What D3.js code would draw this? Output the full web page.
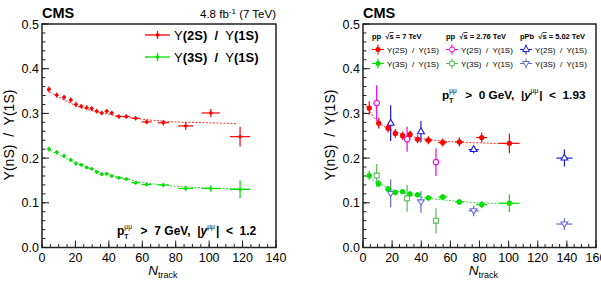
<!DOCTYPE html>
<html>
<head>
<meta charset="utf-8">
<script src="https://cdn.jsdelivr.net/npm/d3@7"></script>
<style>
  body { margin: 0; background: #fff; }
  text { font-family: "Liberation Sans", Arial, sans-serif; fill: #000; white-space: pre; }
</style>
</head>
<body>
<svg id="chart" width="601" height="283"></svg>
<script>
// ---- left panel: pp 7 TeV, pT > 7 GeV ----
var leftN     = [4.2, 8.8, 13.2, 17.2, 20.3, 23.5, 26.7, 29.7, 32.7, 35.7, 38.7, 41.7, 46, 50.4, 56, 62.6, 72.6, 86, 101, 118.5];
var leftNErr  = [1.2, 1.2, 1.2, 1.2, 1.2, 1.2, 1.2, 1.2, 1.2, 1.2, 1.2, 1.2, 2, 2, 2.5, 3, 3.3, 4.5, 5.5, 6];
var left2S    = [0.354, 0.341, 0.336, 0.330, 0.320, 0.316, 0.313, 0.311, 0.305, 0.301, 0.305, 0.301, 0.293, 0.293, 0.289, 0.281, 0.279, 0.272, 0.301, 0.248];
var left2SErr = [0.007, 0.006, 0.006, 0.006, 0.006, 0.005, 0.005, 0.005, 0.005, 0.005, 0.005, 0.005, 0.005, 0.005, 0.005, 0.005, 0.006, 0.009, 0.009, 0.022];
var left3S    = [0.220, 0.213, 0.205, 0.196, 0.188, 0.185, 0.179, 0.176, 0.169, 0.164, 0.165, 0.160, 0.156, 0.153, 0.145, 0.141, 0.140, 0.132, 0.132, 0.130];
var left3SErr = [0.006, 0.005, 0.005, 0.005, 0.005, 0.004, 0.004, 0.004, 0.004, 0.004, 0.004, 0.004, 0.004, 0.004, 0.004, 0.004, 0.005, 0.006, 0.007, 0.02];
var leftFitN  = [3, 20, 40, 60, 80, 100, 117];
var leftFit2S = [0.352, 0.318, 0.298, 0.287, 0.281, 0.279, 0.277];
var leftFit3N = [3, 20, 40, 60, 80, 100, 125];
var leftFit3S = [0.221, 0.189, 0.163, 0.146, 0.137, 0.133, 0.131];

// ---- right panel: pp 7 TeV, pp 2.76 TeV, pPb 5.02 TeV, pT > 0 ----
var r7N      = [4.3, 10.8, 17.2, 22.2, 27.2, 32.3, 37.5, 44.9, 54.7, 66.2, 81.5, 100.5];
var r7NErr   = [1.5, 1.5, 1.5, 1.5, 1.5, 1.5, 2, 2.5, 3, 3, 3.7, 7];
var r7_2S    = [0.312, 0.278, 0.267, 0.255, 0.250, 0.253, 0.242, 0.240, 0.235, 0.236, 0.246, 0.233];
var r7_2SErr = [0.015, 0.012, 0.01, 0.01, 0.009, 0.009, 0.009, 0.009, 0.009, 0.01, 0.011, 0.022];
var r7_3S    = [0.161, 0.143, 0.131, 0.123, 0.125, 0.120, 0.118, 0.111, 0.113, 0.102, 0.096, 0.099];
var r7_3SErr = [0.01, 0.008, 0.007, 0.006, 0.006, 0.006, 0.006, 0.006, 0.006, 0.007, 0.008, 0.02];
var r7FitN   = [2, 10, 20, 30, 40, 60, 80, 101];
var r7Fit2S  = [0.318, 0.282, 0.262, 0.251, 0.244, 0.237, 0.234, 0.232];
var r7Fit3N  = [2, 10, 20, 30, 40, 60, 80, 104];
var r7Fit3S  = [0.160, 0.145, 0.130, 0.120, 0.113, 0.105, 0.100, 0.098];

var r276N      = [9.4, 30.3, 50.1];
var r276_2S    = [0.323, 0.242, 0.191];
var r276_2SErr = [0.04, 0.028, 0.031];
var r276_3S    = [0.161, 0.110, 0.060];
var r276_3SErr = [0.026, 0.03, 0.028];

var rPbN      = [19, 39.8, 76, 138.3];
var rPbNErr   = [0, 0, 3.5, 5.5];
var rPb_2S    = [0.278, 0.259, 0.219, 0.200];
var rPb_2SErr = [0.04, 0.024, 0.008, 0.019];
var rPb_3S    = [0.121, 0.102, 0.082, 0.0525];
var rPb_3SErr = [0.031, 0.024, 0.012, 0.013];

var yTicks = [0, 0.1, 0.2, 0.3, 0.4, 0.5];

var svg = d3.select('#chart');
var frameTop = 24, frameBottom = 247.5;

function zip(xs, ys, xe, ye) {
    return xs.map(function(x, i) {
        return {x: x, y: ys[i], xe: xe ? xe[i] : 0, ye: ye ? ye[i] : 0};
    });
}

function makePanel(left, right, xMax) {
    var x = d3.scaleLinear().domain([0, xMax]).range([left, right]);
    var y = d3.scaleLinear().domain([0, 0.5]).range([frameBottom, frameTop]);
    var g = svg.append('g');

    // minor ticks (inside)
    g.selectAll('.yminor').data(d3.range(0, 0.501, 0.02)).enter().append('line')
        .attr('x1', left).attr('x2', left + 3.5)
        .attr('y1', function(d) { return y(d); }).attr('y2', function(d) { return y(d); })
        .attr('stroke', '#222').attr('stroke-width', 1);
    g.selectAll('.ymajor').data(yTicks).enter().append('line')
        .attr('x1', left).attr('x2', left + 7)
        .attr('y1', function(d) { return y(d); }).attr('y2', function(d) { return y(d); })
        .attr('stroke', '#222').attr('stroke-width', 1);
    g.selectAll('.xminor').data(d3.range(0, xMax + 0.1, 5)).enter().append('line')
        .attr('x1', function(d) { return x(d); }).attr('x2', function(d) { return x(d); })
        .attr('y1', frameBottom).attr('y2', frameBottom - 3.5)
        .attr('stroke', '#222').attr('stroke-width', 1);
    g.selectAll('.xmajor').data(d3.range(0, xMax + 0.1, 20)).enter().append('line')
        .attr('x1', function(d) { return x(d); }).attr('x2', function(d) { return x(d); })
        .attr('y1', frameBottom).attr('y2', frameBottom - 7)
        .attr('stroke', '#222').attr('stroke-width', 1);

    g.selectAll('.ylab').data(yTicks).enter().append('text')
        .attr('x', left - 3).attr('y', function(d) { return y(d) + 4.5; })
        .attr('text-anchor', 'end').attr('font-size', 12.5)
        .text(d3.format('.1f'));
    g.selectAll('.xlab').data(d3.range(0, xMax + 0.1, 20)).enter().append('text')
        .attr('x', function(d) { return x(d); }).attr('y', 262)
        .attr('text-anchor', 'middle').attr('font-size', 12.5)
        .text(function(d) { return d; });

    g.append('rect')
        .attr('x', left).attr('y', frameTop)
        .attr('width', right - left).attr('height', frameBottom - frameTop)
        .attr('fill', 'none').attr('stroke', '#222').attr('stroke-width', 1.5);

    // axis titles
    g.append('text')
        .attr('transform', 'translate(' + (left - 28) + ',135) rotate(-90)')
        .attr('text-anchor', 'middle').attr('font-size', 14)
        .text('\u03A5(nS)  /  \u03A5(1S)');
    var xtl = g.append('text')
        .attr('x', (left + right) / 2 + 4).attr('y', 275)
        .attr('text-anchor', 'middle').attr('font-size', 13.5);
    xtl.append('tspan').attr('font-style', 'italic').text('N');
    xtl.append('tspan').attr('font-size', 9).attr('dy', 3).text('track');

    g.append('text').attr('x', left).attr('y', 18)
        .attr('font-size', 14.5).attr('font-weight', 'bold').text('CMS');
    return {x: x, y: y, g: g};
}

function drawFit(p, ns, rs, color) {
    var line = d3.line().x(function(d) { return p.x(d.x); }).y(function(d) { return p.y(d.y); })
        .curve(d3.curveMonotoneX);
    p.g.append('path').datum(zip(ns, rs))
        .attr('d', line).attr('fill', 'none')
        .attr('stroke', color).attr('stroke-width', 1).attr('stroke-dasharray', '2,1.5');
}

function drawSeries(p, pts, color, symbol, size, filled) {
    var s = p.g.append('g');
    s.selectAll('.ex').data(pts).enter().append('line')
        .attr('x1', function(d) { return p.x(d.x - d.xe); })
        .attr('x2', function(d) { return p.x(d.x + d.xe); })
        .attr('y1', function(d) { return p.y(d.y); })
        .attr('y2', function(d) { return p.y(d.y); })
        .attr('stroke', color).attr('stroke-width', 1.2);
    s.selectAll('.ey').data(pts).enter().append('line')
        .attr('x1', function(d) { return p.x(d.x); })
        .attr('x2', function(d) { return p.x(d.x); })
        .attr('y1', function(d) { return p.y(d.y - d.ye); })
        .attr('y2', function(d) { return p.y(d.y + d.ye); })
        .attr('stroke', color).attr('stroke-width', 1.2);
    s.selectAll('.pt').data(pts).enter().append('path')
        .attr('transform', function(d) { return 'translate(' + p.x(d.x) + ',' + p.y(d.y) + ')'; })
        .attr('d', d3.symbol().type(symbol).size(size))
        .attr('fill', filled ? color : '#fff')
        .attr('stroke', color).attr('stroke-width', filled ? 0 : 1.1);
}

var invTriangle = {
    draw: function(ctx, size) {
        var s = Math.sqrt(size / 0.433) / 2;
        ctx.moveTo(0, s * 0.9);
        ctx.lineTo(s, -s * 0.6);
        ctx.lineTo(-s, -s * 0.6);
        ctx.closePath();
    }
};

// kinematic cut label: p_T^mumu > X GeV, |y^mumu| < Y
function kinLabel(g, x0, y0, fs, cutText, yText) {
    var x = x0;
    function put(str, opts) {
        var t = g.append('text').attr('x', x + (opts.dx || 0)).attr('y', y0 + (opts.dy || 0))
            .attr('font-size', opts.fs || fs)
            .attr('font-weight', opts.normal ? 'normal' : 'bold')
            .attr('font-style', opts.italic ? 'italic' : 'normal')
            .text(str);
        return t.node().getComputedTextLength();
    }
    x += put('p', {});
    var wSub = put('T', {fs: fs * 0.55, dy: 3.5});
    var wSup = put('\u03BC\u03BC', {fs: fs * 0.55, dy: -6, normal: true});
    x += Math.max(wSub, wSup) + 2;
    x += put('  >  ' + cutText + ' GeV,  |', {});
    x += put('y', {italic: true});
    x += put('\u03BC\u03BC', {fs: fs * 0.55, dy: -6, normal: true}) + 1;
    put('|  <  ' + yText, {});
}

// ---------------- left panel ----------------
var L = makePanel(42, 276, 140);
drawFit(L, leftFitN, leftFit2S, '#ff3030');
drawFit(L, leftFit3N, leftFit3S, '#30e030');
drawSeries(L, zip(leftN, left2S, leftNErr, left2SErr), '#ff0000', d3.symbolCircle, 9, true);
drawSeries(L, zip(leftN, left3S, leftNErr, left3SErr), '#00e000', d3.symbolCircle, 9, true);

L.g.append('text').attr('x', 276).attr('y', 18).attr('text-anchor', 'end').attr('font-size', 11.5)
    .call(function(t) {
        t.append('tspan').text('4.8 fb');
        t.append('tspan').attr('font-size', 8).attr('dy', -4).text('-1');
        t.append('tspan').attr('dy', 4).text(' (7 TeV)');
    });

var leftLegend = [
    {label: '(2S)', color: '#ff0000', y: 35},
    {label: '(3S)', color: '#00e000', y: 57}
];
leftLegend.forEach(function(d) {
    L.g.append('line').attr('x1', 145).attr('x2', 170).attr('y1', d.y).attr('y2', d.y)
        .attr('stroke', d.color).attr('stroke-width', 1.3);
    L.g.append('line').attr('x1', 157.5).attr('x2', 157.5).attr('y1', d.y - 4).attr('y2', d.y + 4)
        .attr('stroke', d.color).attr('stroke-width', 1.3);
    L.g.append('circle').attr('cx', 157.5).attr('cy', d.y).attr('r', 1.8).attr('fill', d.color);
    var t = L.g.append('text').attr('x', 174).attr('y', d.y + 4.5).attr('font-size', 13);
    t.append('tspan').text('\u03A5');
    t.append('tspan').attr('font-weight', 'bold').text(d.label + '  /  ');
    t.append('tspan').text('\u03A5');
    t.append('tspan').attr('font-weight', 'bold').text('(1S)');
});

kinLabel(L.g, 117, 235, 12, '7', '1.2');

// ---------------- right panel ----------------
var R = makePanel(363, 596, 160);
drawFit(R, r7FitN, r7Fit2S, '#ff3030');
drawFit(R, r7Fit3N, r7Fit3S, '#30e030');
drawSeries(R, zip(r276N, r276_2S, null, r276_2SErr), '#ee00ee', d3.symbolCircle, 24, false);
drawSeries(R, zip(r276N, r276_3S, null, r276_3SErr), '#55bb55', d3.symbolSquare, 24, false);
drawSeries(R, zip(rPbN, rPb_2S, rPbNErr, rPb_2SErr), '#1a1ae0', d3.symbolTriangle, 20, false);
drawSeries(R, zip(rPbN, rPb_3S, rPbNErr, rPb_3SErr), '#6a6ad8', invTriangle, 20, false);
drawSeries(R, zip(r7N, r7_2S, r7NErr, r7_2SErr), '#ff0000', d3.symbolCircle, 22, true);
drawSeries(R, zip(r7N, r7_3S, r7NErr, r7_3SErr), '#00e000', d3.symbolCircle, 22, true);

var legendCols = [
    {x: 372, head: 'pp', energy: '7 TeV'},
    {x: 446, head: 'pp', energy: '2.76 TeV'},
    {x: 520, head: 'pPb', energy: '5.02 TeV'}
];
var legendItems = [
    {col: 0, row: 0, label: '(2S)', color: '#ff0000', symbol: d3.symbolCircle, filled: true},
    {col: 0, row: 1, label: '(3S)', color: '#00e000', symbol: d3.symbolCircle, filled: true},
    {col: 1, row: 0, label: '(2S)', color: '#ee00ee', symbol: d3.symbolCircle, filled: false},
    {col: 1, row: 1, label: '(3S)', color: '#55bb55', symbol: d3.symbolSquare, filled: false},
    {col: 2, row: 0, label: '(2S)', color: '#1a1ae0', symbol: d3.symbolTriangle, filled: false},
    {col: 2, row: 1, label: '(3S)', color: '#6a6ad8', symbol: invTriangle, filled: false}
];
legendCols.forEach(function(c) {
    var t = R.g.append('text').attr('x', c.x).attr('y', 39).attr('font-size', 7.5).attr('font-weight', 'bold');
    t.append('tspan').text(c.head + '  \u221A');
    t.append('tspan').attr('text-decoration', 'overline').text('s');
    t.append('tspan').text(' = ' + c.energy);
});
legendItems.forEach(function(d) {
    var cx = legendCols[d.col].x + 6;
    var cy = 49.5 + d.row * 14;
    R.g.append('line').attr('x1', cx - 6).attr('x2', cx + 6).attr('y1', cy).attr('y2', cy)
        .attr('stroke', d.color).attr('stroke-width', 1.1);
    R.g.append('line').attr('x1', cx).attr('x2', cx).attr('y1', cy - 5).attr('y2', cy + 5)
        .attr('stroke', d.color).attr('stroke-width', 1.1);
    R.g.append('path').attr('transform', 'translate(' + cx + ',' + cy + ')')
        .attr('d', d3.symbol().type(d.symbol).size(20))
        .attr('fill', d.filled ? d.color : '#fff').attr('stroke', d.color)
        .attr('stroke-width', d.filled ? 0 : 1);
    R.g.append('text').attr('x', cx + 9).attr('y', cy + 3).attr('font-size', 8)
        .text('\u03A5' + d.label + '  /  \u03A5(1S)');
});

kinLabel(R.g, 442, 99, 11.8, '0', '1.93');
</script>
</body>
</html>
